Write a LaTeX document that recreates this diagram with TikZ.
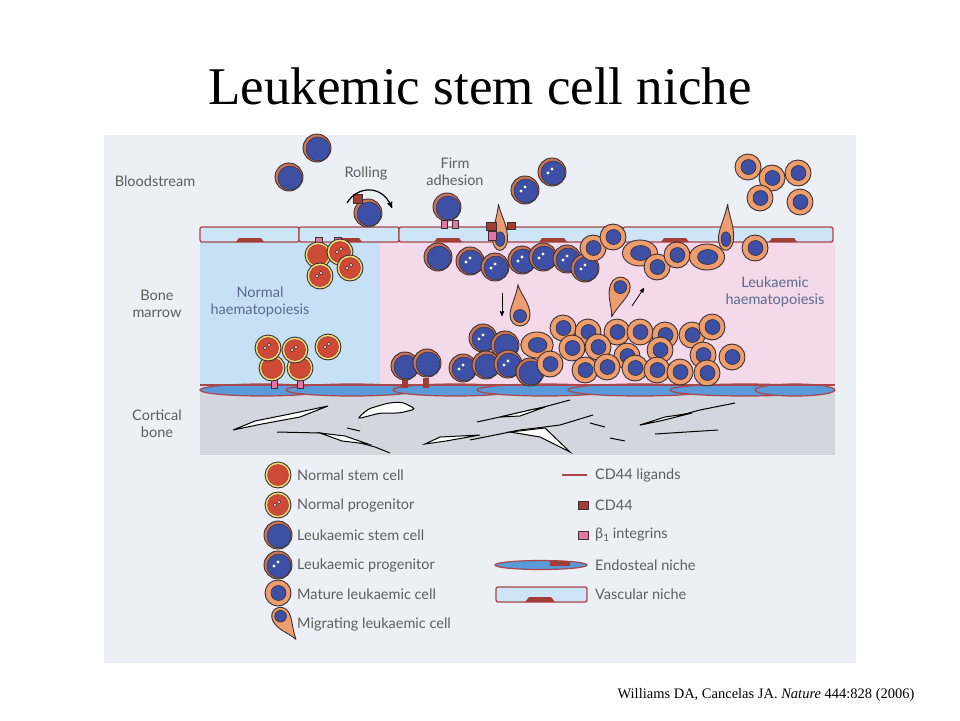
\documentclass[tikz,border=0pt]{standalone}
\usepackage{fontspec}
\setmainfont{Liberation Serif}
\newfontfamily\labelfont{Lato}
\usetikzlibrary{arrows}
\usepackage{xcolor}

\definecolor{panelbg}{HTML}{EDEFF6}
\definecolor{normbm}{HTML}{C6E1F5}
\definecolor{leukbm}{HTML}{F4D9EB}
\definecolor{bonegrey}{HTML}{D3D6DF}
\definecolor{vesselfill}{HTML}{CDE5F6}
\definecolor{vesselline}{HTML}{A9474A}
\definecolor{endoblue}{HTML}{5A9AD8}
\definecolor{cellline}{HTML}{3A3030}
\definecolor{ringyellow}{HTML}{EEE07A}
\definecolor{normred}{HTML}{CF4A36}
\definecolor{leukrim}{HTML}{C9755C}
\definecolor{leukblue}{HTML}{3D50A6}
\definecolor{matorange}{HTML}{EE9D6E}
\definecolor{cdred}{HTML}{A23E36}
\definecolor{intpink}{HTML}{E274A6}
\definecolor{labelgrey}{HTML}{5E5E5E}
\definecolor{haemagrey}{HTML}{5B6A8A}

\tikzset{
 lbl/.style={font=\labelfont\fontsize{14.5}{17}\selectfont, text=labelgrey, align=center, inner sep=0pt},
 leg/.style={lbl, anchor=west},
 haema/.style={lbl, text=haemagrey},
 vessel/.style={draw=vesselline, fill=vesselfill, line width=1.3, rounded corners=2},
 endo/.style={draw=vesselline, fill=endoblue, line width=1.2},
 crack/.style={draw=black, fill=white, line width=1},
 fissure/.style={draw=black, line width=1},
 normalstem/.pic={
  \draw[line width=0.9, draw=cellline, fill=ringyellow] (0,0) circle[radius=13];
  \draw[line width=0.5, draw=cdred, fill=normred] (0,0) circle[radius=10.5];
 },
 normalprog/.pic={
  \draw[line width=0.9, draw=cellline, fill=ringyellow] (0,0) circle[radius=13];
  \draw[line width=0.5, draw=cdred, fill=normred] (0,0) circle[radius=10.5];
  \draw[line width=0.4, fill=white] (-3,0) circle[radius=1.7] (1,-3) circle[radius=1.7];
 },
 leukstem/.pic={
  \draw[line width=0.9, draw=cellline, fill=leukrim] (0,0) circle[radius=14];
  \draw[line width=0.5, draw=cellline, fill=leukblue] (1,1) circle[radius=12];
 },
 leukprog/.pic={
  \draw[line width=0.9, draw=cellline, fill=leukrim] (0,0) circle[radius=14];
  \draw[line width=0.5, draw=cellline, fill=leukblue] (1,1) circle[radius=12];
  \fill[white] (-4,1) circle[radius=1.6] (0,-3) circle[radius=1.6];
 },
 mature/.pic={
  \draw[line width=0.9, draw=cellline, fill=matorange] (0,0) circle[radius=13];
  \draw[line width=0.6, draw=cellline, fill=leukblue] (0.5,0) circle[radius=7.5];
 },
 migrating/.pic={
  \draw[line width=0.9, draw=cellline, fill=matorange]
   (-2,-30) .. controls (1,-20) and (10,-12) .. (10,0)
   .. controls (10,7) and (5,11) .. (0,11)
   .. controls (-6,11) and (-10,6) .. (-10,0)
   .. controls (-10,-8) and (-4,-18) .. cycle;
  \draw[line width=0.6, draw=cellline, fill=leukblue] (0,1) circle[radius=6.5];
 },
}

\begin{document}
\begin{tikzpicture}[x=1pt,y=-1pt]
\useasboundingbox (0,0) rectangle (960,720);
\fill[white] (0,0) rectangle (960,720);
\fill[panelbg] (104,135) rectangle (856,663);

\node[font=\fontsize{53}{60}\selectfont] (title) at (480,86) {Leukemic stem cell niche};

% tissue layers
\fill[normbm] (200,242) rectangle (380,390);
\fill[leukbm] (380,242) rectangle (835,390);
\fill[bonegrey] (200,392) rectangle (835,455);

% endosteal niche
\foreach \cx/\rx in {262/62, 352/66, 455/62, 545/68, 640/72, 745/75, 795/40}
 \draw[endo] (\cx,390) ellipse[x radius=\rx, y radius=6];
\draw[vesselline, line width=1.2] (200,385) -- (835,385);

% cortical bone cracks
\draw[crack] (233,430) -- (255,421) -- (290,414) -- (328,406) -- (300,417) -- (262,424) -- cycle;
\draw[crack, rounded corners=4] (357,419) -- (368,409) -- (388,403) -- (402,402) -- (416,409) -- (400,413) -- (380,413) -- cycle;
\draw[fissure] (277,432) -- (320,433) -- (350,440) -- (375,447) -- (390,453);
\draw[crack] (320,433) -- (345,436) -- (368,444) -- (342,441) -- cycle;
\draw[fissure] (347,428) -- (360,431);
\draw[crack] (425,444) -- (440,437) -- (480,435) -- (446,441) -- cycle;
\draw[fissure] (477,422) -- (500,417) -- (540,408) -- (570,400);
\draw[crack] (500,417) -- (530,410) -- (545,407) -- (520,416) -- cycle;
\draw[fissure] (470,440) -- (520,430) -- (560,425) -- (593,415);
\draw[crack] (510,432) -- (545,428) -- (570,452) -- (540,437) -- cycle;
\draw[fissure] (590,423) -- (605,427);
\draw[fissure] (610,438) -- (625,441);
\draw[fissure] (640,425) -- (670,418) -- (700,410) -- (735,403);
\draw[crack] (640,425) -- (665,417) -- (692,413) -- (660,421) -- cycle;
\draw[fissure] (655,434) -- (718,430);

% vascular niche
\foreach \xa/\xb in {200/299, 299/399, 399/623, 623/833}
 \draw[vessel] (\xa,227) rectangle (\xb,242);
\foreach \nx in {250,348,448,553,675,783}
 \fill[cdred] (\nx-14,242) -- (\nx-11,238) -- (\nx+11,238) -- (\nx+14,242) -- cycle;

% labels
\node[lbl] (blood) at (155,181) {Bloodstream};
\node[lbl] (marrow) at (157,304) {Bone\\marrow};
\node[lbl] (cortical) at (157,424) {Cortical\\bone};
\node[lbl] (rolling) at (366,173) {Rolling};
\node[lbl] (firm) at (455,172) {Firm\\adhesion};
\node[haema] (normhaema) at (260,302) {Normal\\haematopoiesis};
\node[haema] (leukhaema) at (775,292) {Leukaemic\\haematopoiesis};

% bloodstream cells
\pic at (317,148) {leukstem};
\pic at (289,177) {leukstem};
\pic at (368,213) {leukstem};
\fill[cdred, draw=cellline, line width=0.5] (353,194) rectangle (362,203);
\draw[black, very thick, ->, >=stealth'] (347,203) .. controls (357,186) and (382,184) .. (392,208);
\pic at (447,207) {leukstem};
\fill[intpink, draw=cellline, line width=0.5] (441,220) rectangle (447,228);
\fill[intpink, draw=cellline, line width=0.5] (452,220) rectangle (458,228);
\pic at (525,190) {leukprog};
\pic at (552,172) {leukprog};
\foreach \cx/\cy in {748/167, 772/178, 798/173, 760/198, 800/202}
 \pic at (\cx,\cy) {mature};

% transmigrating cells
\pic[scale=0.75, yscale=1.5] at (500,238) {migrating};
\fill[cdred, draw=cellline, line width=0.5] (486,222) rectangle (496,230);
\fill[cdred, draw=cellline, line width=0.5] (507,222) rectangle (515,229);
\fill[intpink, draw=cellline, line width=0.5] (488,231) rectangle (496,240);
\pic[scale=0.75, yscale=1.5, rotate=-8] at (726,238) {migrating};

% normal haematopoiesis
\fill[intpink, draw=cellline, line width=0.5] (315,237) rectangle (322,245);
\fill[intpink, draw=cellline, line width=0.5] (334,237) rectangle (341,245);
\foreach \cx/\cy/\kind in {318/255/normalstem, 340/252/normalprog, 320/276/normalprog, 350/268/normalprog}
 \pic at (\cx,\cy) {\kind};
\fill[intpink, draw=cellline, line width=0.5] (271,378) rectangle (277,388);
\fill[intpink, draw=cellline, line width=0.5] (297,378) rectangle (303,388);
\foreach \cx/\cy/\kind in {272/368/normalstem, 300/368/normalstem, 268/348/normalprog, 295/350/normalprog, 328/347/normalprog}
 \pic at (\cx,\cy) {\kind};

% leukaemic haematopoiesis, upper row
\foreach \cx/\cy/\kind in {438/257/leukstem, 470/261/leukprog, 495/267/leukprog, 522/260/leukprog, 543/257/leukprog, 567/259/leukprog, 585/268/leukprog}
 \pic at (\cx,\cy) {\kind};
\pic at (593,248) {mature};
\pic at (613,237) {mature};
\pic[xscale=1.35] at (640,253) {mature};
\pic at (657,267) {mature};
\pic at (677,255) {mature};
\pic[xscale=1.35] at (707,257) {mature};
\pic at (755,248) {mature};

% migration arrows
\draw[black, thick, ->, >=stealth'] (502,293) -- (502,316);
\draw[black, thick, ->, >=stealth'] (632,306) -- (644,288);
\pic at (520,315) {migrating};
\pic[rotate=160] at (620,288) {migrating};

% leukaemic haematopoiesis, lower cluster
\fill[cdred] (402,378) rectangle (408,388);
\fill[cdred] (423,378) rectangle (429,388);
\pic at (405,366) {leukstem};
\pic at (427,363) {leukstem};
\foreach \cx/\cy/\kind in {483/338/leukprog, 505/345/leukstem, 463/368/leukprog, 486/365/leukstem, 508/364/leukprog, 530/372/leukstem}
 \pic at (\cx,\cy) {\kind};
\pic[xscale=1.25] at (537,345) {mature};
\foreach \cx/\cy in {563/328, 588/332, 617/332, 640/332, 665/335, 692/335, 712/327,
                     572/348, 598/347, 627/356, 660/350, 703/355, 732/357,
                     550/364, 585/370, 607/367, 635/368, 657/370, 680/372, 707/373}
 \pic at (\cx,\cy) {mature};

% legend, cells
\pic at (278,475) {normalstem};
\pic at (278,505) {normalprog};
\pic at (278,535) {leukstem};
\pic at (278,565) {leukprog};
\pic at (278,593) {mature};
\pic[rotate=-150, scale=0.9] at (281,617) {migrating};
\node[leg] (lnstem) at (297,475) {Normal stem cell};
\node[leg] (lnprog) at (297,505) {Normal progenitor};
\node[leg] (llstem) at (297,535) {Leukaemic stem cell};
\node[leg] (llprog) at (297,565) {Leukaemic progenitor};
\node[leg] (lmat) at (297,594) {Mature leukaemic cell};
\node[leg] (lmig) at (297,624) {Migrating leukaemic cell};

% legend, niche
\draw[vesselline, line width=1.3] (562,475) -- (587,475);
\fill[cdred, draw=cellline, line width=0.5] (578,501) rectangle (588,509);
\fill[intpink, draw=cellline, line width=0.5] (578,531) rectangle (588,539);
\draw[endo] (541,565) ellipse[x radius=46, y radius=4.5];
\fill[cdred] (550,561) rectangle (570,566);
\draw[vessel] (496,587) rectangle (587,602);
\fill[cdred] (525,602) -- (529,597) -- (551,597) -- (555,602) -- cycle;
\node[leg] (lcdlig) at (595,475) {CD44 ligands};
\node[leg] (lcd) at (595,505) {CD44};
\node[leg] (lint) at (595,535) {β\raisebox{-2.5pt}{\fontsize{10}{10}\selectfont 1} integrins};
\node[leg] (lendo) at (595,565) {Endosteal niche};
\node[leg] (lvasc) at (595,594) {Vascular niche};

% reference
\node[font=\fontsize{14.5}{16}\selectfont, anchor=east] (ref) at (918,695) {Williams DA, Cancelas JA. \textit{Nature} 444:828 (2006)};
\end{tikzpicture}
\end{document}
